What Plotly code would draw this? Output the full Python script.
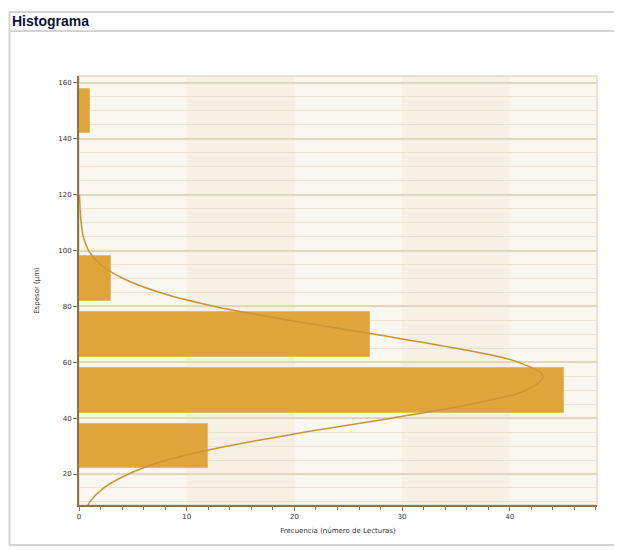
import plotly.graph_objects as go

# Data
bin_centers = [30, 50, 70, 90, 150]          # Espesor (µm) bin centres
frequencies = [12, 45, 27, 3, 1]             # Frecuencia (número de lecturas)
curve_y = [120, 115, 110, 105, 100, 95, 90, 85, 80, 75, 70, 65, 60, 55,
           50, 45, 40, 35, 30, 25, 20, 15, 10, 8.5]
curve_x = [0.05, 0.1, 0.2, 0.4, 0.9, 2.0, 4.1, 7.5, 12.6, 19.6, 27.5, 35.0,
           40.8, 43.1, 41.5, 36.3, 29.0, 21.0, 13.8, 8.2, 4.6, 2.3, 1.0, 0.8]
x_ticks = [0, 10, 20, 30, 40]
y_ticks = [20, 40, 60, 80, 100, 120, 140, 160]

# Layout geometry (pixels, page coordinates); page body has an 8px margin
OFF = 8
W, H = 622 - OFF, 550 - OFF
L, R, T, B = 79 - OFF, 597 - OFF, 76 - OFF, 505 - OFF

def px(xp):
    return (xp - OFF - L) / (R - L)

def py(yp):
    return (B - (yp - OFF)) / (B - T)

fig = go.Figure()

fig.add_trace(go.Bar(
    y=bin_centers, x=frequencies, orientation="h", width=16,
    marker=dict(color="#DFA53B", line=dict(color="#E9BC62", width=1)),
    hoverinfo="x+y",
))
fig.add_trace(go.Scatter(
    x=curve_x, y=curve_y, mode="lines",
    line=dict(color="#C99430", width=1.5, shape="spline", smoothing=1.0),
    hoverinfo="skip",
))

shapes = []
# alternating vertical bands
for i in range(len(x_ticks) - 1):
    if i % 2 == 1:
        shapes.append(dict(type="rect", xref="x", yref="paper",
                           x0=x_ticks[i], x1=x_ticks[i + 1], y0=0, y1=1,
                           fillcolor="#F7F0E4", line=dict(width=0), layer="below"))
# plot border (light)
shapes.append(dict(type="rect", xref="paper", yref="paper", x0=0, x1=1, y0=0, y1=1,
                   line=dict(color="#E6DBC6", width=1.5), layer="below"))
# outer panel frame
gray = "#D3D3D3"
shapes += [
    dict(type="line", xref="paper", yref="paper", x0=px(9), x1=px(640), y0=py(12), y1=py(12),
         line=dict(color=gray, width=2)),
    dict(type="line", xref="paper", yref="paper", x0=px(9), x1=px(640), y0=py(31), y1=py(31),
         line=dict(color=gray, width=2)),
    dict(type="line", xref="paper", yref="paper", x0=px(9), x1=px(640), y0=py(545), y1=py(545),
         line=dict(color=gray, width=2)),
    dict(type="line", xref="paper", yref="paper", x0=px(9.5), x1=px(9.5), y0=py(12), y1=py(545),
         line=dict(color=gray, width=2)),
]

axis_col = "#8C7444"
tick_font = dict(family="DejaVu Sans", size=7, color="#333333")

fig.update_layout(
    width=W, height=H,
    margin=dict(l=L, r=W - R, t=T, b=H - B),
    paper_bgcolor="white",
    plot_bgcolor="#FBF8F1",
    showlegend=False,
    bargap=0,
    shapes=shapes,
    annotations=[dict(text="<b>Histograma</b>", xref="paper", yref="paper",
                      x=px(10), y=py(21), xanchor="left", yanchor="middle",
                      showarrow=False,
                      font=dict(family="Liberation Sans", size=14, color="#111133"))],
    xaxis=dict(range=[0, 48.1], tickvals=x_ticks, showgrid=False, zeroline=False,
               showline=True, linecolor=axis_col, linewidth=2,
               ticks="outside", ticklen=4, tickwidth=1, tickcolor=axis_col,
               minor=dict(dtick=2, ticks="outside", ticklen=3, tickcolor=axis_col, showgrid=False),
               tickfont=tick_font,
               title=dict(text="Frecuencia (número de Lecturas)", font=tick_font, standoff=8)),
    yaxis=dict(range=[8.9, 162.5], tickvals=y_ticks, showgrid=True, gridcolor="#E3D6BE",
               gridwidth=1.5, zeroline=False,
               showline=True, linecolor=axis_col, linewidth=2,
               ticks="outside", ticklen=4, tickwidth=1, tickcolor=axis_col,
               minor=dict(dtick=5, tick0=0, showgrid=True, gridcolor="#EBE2D2", gridwidth=1),
               tickfont=tick_font,
               title=dict(text="Espesor (µm)", font=tick_font, standoff=18)),
)

fig.write_html("out.html")
